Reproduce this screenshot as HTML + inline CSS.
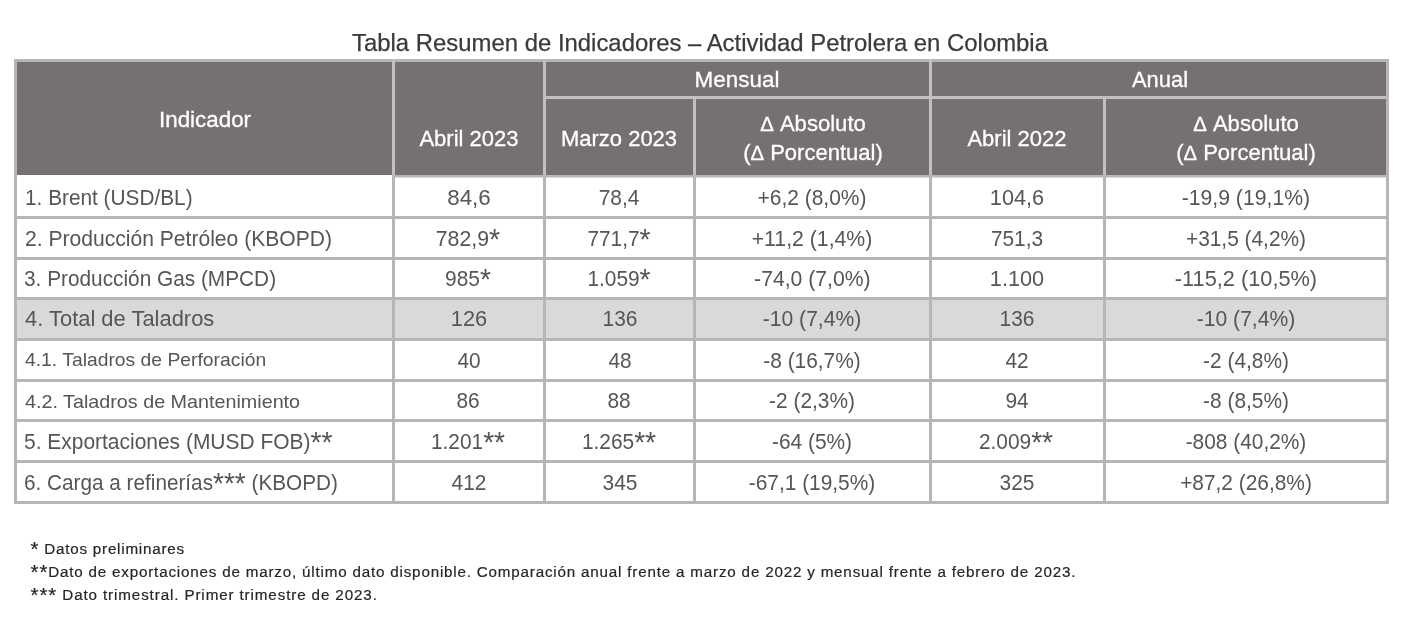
<!DOCTYPE html>
<html lang="es">
<head>
<meta charset="utf-8">
<title>Tabla Resumen de Indicadores – Actividad Petrolera en Colombia</title>
<style>
html,body{margin:0;padding:0;background:#fff;}
body{width:1415px;height:627px;position:relative;overflow:hidden;font-family:"Liberation Sans", Arial, sans-serif;}
.r{position:absolute;}
.t{position:absolute;white-space:nowrap;margin:0;padding:0;}
.ti{color:#3a3a3a;-webkit-text-stroke:0.25px #3a3a3a;}
.h{color:#fff;-webkit-text-stroke:0.3px #fff;}
.d{color:#55555a;}
.f{color:#262626;-webkit-text-stroke:0.2px #262626;}
.a{font-size:1.35em;line-height:0;vertical-align:-0.1em;}
.dl{font-size:.92em;}
</style>
</head>
<body>
<div class="r" style="left:14px;top:59px;width:1375px;height:116px;background:#767171"></div>
<div class="r" style="left:14px;top:297px;width:1375px;height:41px;background:#d9d9d9"></div>
<div class="r" style="left:14px;top:59px;width:1375px;height:3px;background:#b6b6b6"></div>
<div class="r" style="left:543px;top:96px;width:846px;height:3px;background:#c3bfbf"></div>
<div class="r" style="left:395px;top:175px;width:994px;height:2px;background:#b6b6b6"></div>
<div class="r" style="left:395px;top:177px;width:994px;height:1px;background:#dcdcdc"></div>
<div class="r" style="left:14px;top:216px;width:1375px;height:3px;background:#b6b6b6"></div>
<div class="r" style="left:14px;top:257px;width:1375px;height:3px;background:#b6b6b6"></div>
<div class="r" style="left:14px;top:297px;width:1375px;height:3px;background:#b6b6b6"></div>
<div class="r" style="left:14px;top:338px;width:1375px;height:3px;background:#b6b6b6"></div>
<div class="r" style="left:14px;top:379px;width:1375px;height:3px;background:#b6b6b6"></div>
<div class="r" style="left:14px;top:419px;width:1375px;height:3px;background:#b6b6b6"></div>
<div class="r" style="left:14px;top:460px;width:1375px;height:3px;background:#b6b6b6"></div>
<div class="r" style="left:14px;top:501px;width:1375px;height:3px;background:#b6b6b6"></div>
<div class="r" style="left:14px;top:59px;width:3px;height:445px;background:#b6b6b6"></div>
<div class="r" style="left:392px;top:59px;width:3px;height:116px;background:#c3bfbf"></div>
<div class="r" style="left:392px;top:175px;width:3px;height:329px;background:#b6b6b6"></div>
<div class="r" style="left:543px;top:59px;width:3px;height:116px;background:#c3bfbf"></div>
<div class="r" style="left:543px;top:175px;width:3px;height:329px;background:#b6b6b6"></div>
<div class="r" style="left:693px;top:96px;width:3px;height:79px;background:#c3bfbf"></div>
<div class="r" style="left:693px;top:175px;width:3px;height:329px;background:#b6b6b6"></div>
<div class="r" style="left:929px;top:59px;width:3px;height:116px;background:#c3bfbf"></div>
<div class="r" style="left:929px;top:175px;width:3px;height:329px;background:#b6b6b6"></div>
<div class="r" style="left:1103px;top:96px;width:3px;height:79px;background:#c3bfbf"></div>
<div class="r" style="left:1103px;top:175px;width:3px;height:329px;background:#b6b6b6"></div>
<div class="r" style="left:1386px;top:59px;width:3px;height:445px;background:#b6b6b6"></div>
<div class="t ti" style="top:27.95px;line-height:29px;font-size:24.4px;left:199.78px;width:1000px;text-align:center;transform:scaleX(0.9796);">Tabla Resumen de Indicadores – Actividad Petrolera en Colombia</div>
<div class="t h" style="top:106.20px;line-height:27px;font-size:22.8px;left:-295.39px;width:1000px;text-align:center;transform:scaleX(0.9815);">Indicador</div>
<div class="t h" style="top:124.60px;line-height:27px;font-size:22.8px;left:-31.28px;width:1000px;text-align:center;transform:scaleX(0.9667);">Abril 2023</div>
<div class="t h" style="top:66.20px;line-height:27px;font-size:22.8px;left:237.39px;width:1000px;text-align:center;transform:scaleX(0.9843);">Mensual</div>
<div class="t h" style="top:66.20px;line-height:27px;font-size:22.8px;left:659.63px;width:1000px;text-align:center;transform:scaleX(0.9614);">Anual</div>
<div class="t h" style="top:124.60px;line-height:27px;font-size:22.8px;left:118.92px;width:1000px;text-align:center;transform:scaleX(0.9653);">Marzo 2023</div>
<div class="t h" style="top:110.40px;line-height:27px;font-size:22.8px;left:313.02px;width:1000px;text-align:center;transform:scaleX(0.9685);"><span class="dl">Δ</span> Absoluto</div>
<div class="t h" style="top:139.30px;line-height:27px;font-size:22.8px;left:312.66px;width:1000px;text-align:center;transform:scaleX(0.9662);">(<span class="dl">Δ</span> Porcentual)</div>
<div class="t h" style="top:124.60px;line-height:27px;font-size:22.8px;left:517.22px;width:1000px;text-align:center;transform:scaleX(0.9667);">Abril 2022</div>
<div class="t h" style="top:110.40px;line-height:27px;font-size:22.8px;left:746.22px;width:1000px;text-align:center;transform:scaleX(0.9685);"><span class="dl">Δ</span> Absoluto</div>
<div class="t h" style="top:139.30px;line-height:27px;font-size:22.8px;left:745.96px;width:1000px;text-align:center;transform:scaleX(0.9662);">(<span class="dl">Δ</span> Porcentual)</div>
<div class="t d" style="top:185.15px;line-height:25px;font-size:21.2px;left:24.82px;transform:scaleX(0.9817);transform-origin:0 50%;">1. Brent (USD/BL)</div>
<div class="t d" style="top:185.15px;line-height:25px;font-size:21.2px;left:-31.27px;width:1000px;text-align:center;transform:scaleX(1.0564);">84,6</div>
<div class="t d" style="top:185.15px;line-height:25px;font-size:21.2px;left:119.13px;width:1000px;text-align:center;transform:scaleX(0.985);">78,4</div>
<div class="t d" style="top:185.15px;line-height:25px;font-size:21.2px;left:312.16px;width:1000px;text-align:center;transform:scaleX(0.9898);">+6,2 (8,0%)</div>
<div class="t d" style="top:185.15px;line-height:25px;font-size:21.2px;left:516.82px;width:1000px;text-align:center;transform:scaleX(1.0235);">104,6</div>
<div class="t d" style="top:185.15px;line-height:25px;font-size:21.2px;left:745.89px;width:1000px;text-align:center;">-19,9 (19,1%)</div>
<div class="t d" style="top:226.15px;line-height:25px;font-size:21.2px;left:24.50px;transform:scaleX(0.9951);transform-origin:0 50%;">2. Producción Petróleo (KBOPD)</div>
<div class="t d" style="top:226.15px;line-height:25px;font-size:21.2px;left:-31.82px;width:1000px;text-align:center;transform:scaleX(1.0032);">782,9<span class="a">*</span></div>
<div class="t d" style="top:226.15px;line-height:25px;font-size:21.2px;left:119.09px;width:1000px;text-align:center;transform:scaleX(0.985);">771,7<span class="a">*</span></div>
<div class="t d" style="top:226.15px;line-height:25px;font-size:21.2px;left:312.26px;width:1000px;text-align:center;transform:scaleX(1.0025);">+11,2 (1,4%)</div>
<div class="t d" style="top:226.15px;line-height:25px;font-size:21.2px;left:516.82px;width:1000px;text-align:center;transform:scaleX(0.985);">751,3</div>
<div class="t d" style="top:226.15px;line-height:25px;font-size:21.2px;left:745.65px;width:1000px;text-align:center;transform:scaleX(0.985);">+31,5 (4,2%)</div>
<div class="t d" style="top:266.15px;line-height:25px;font-size:21.2px;left:24.22px;transform:scaleX(0.982);transform-origin:0 50%;">3. Producción Gas (MPCD)</div>
<div class="t d" style="top:266.15px;line-height:25px;font-size:21.2px;left:-31.65px;width:1000px;text-align:center;transform:scaleX(0.985);">985<span class="a">*</span></div>
<div class="t d" style="top:266.15px;line-height:25px;font-size:21.2px;left:119.09px;width:1000px;text-align:center;transform:scaleX(0.985);">1.059<span class="a">*</span></div>
<div class="t d" style="top:266.15px;line-height:25px;font-size:21.2px;left:312.40px;width:1000px;text-align:center;">-74,0 (7,0%)</div>
<div class="t d" style="top:266.15px;line-height:25px;font-size:21.2px;left:516.82px;width:1000px;text-align:center;transform:scaleX(1.0235);">1.100</div>
<div class="t d" style="top:266.15px;line-height:25px;font-size:21.2px;left:746.00px;width:1000px;text-align:center;transform:scaleX(1.0265);">-115,2 (10,5%)</div>
<div class="t d" style="top:306.15px;line-height:25px;font-size:21.2px;left:24.70px;transform:scaleX(1.0346);transform-origin:0 50%;">4. Total de Taladros</div>
<div class="t d" style="top:306.15px;line-height:25px;font-size:21.2px;left:-31.22px;width:1000px;text-align:center;transform:scaleX(1.0273);">126</div>
<div class="t d" style="top:306.15px;line-height:25px;font-size:21.2px;left:119.68px;width:1000px;text-align:center;transform:scaleX(0.985);">136</div>
<div class="t d" style="top:306.15px;line-height:25px;font-size:21.2px;left:312.06px;width:1000px;text-align:center;transform:scaleX(0.9948);">-10 (7,4%)</div>
<div class="t d" style="top:306.15px;line-height:25px;font-size:21.2px;left:516.98px;width:1000px;text-align:center;transform:scaleX(0.985);">136</div>
<div class="t d" style="top:306.15px;line-height:25px;font-size:21.2px;left:745.66px;width:1000px;text-align:center;transform:scaleX(0.9948);">-10 (7,4%)</div>
<div class="t d" style="top:348.42px;line-height:23px;font-size:19.0px;left:24.70px;transform:scaleX(1.0165);transform-origin:0 50%;">4.1. Taladros de Perforación</div>
<div class="t d" style="top:347.65px;line-height:25px;font-size:21.2px;left:-31.12px;width:1000px;text-align:center;transform:scaleX(0.985);">40</div>
<div class="t d" style="top:347.65px;line-height:25px;font-size:21.2px;left:119.78px;width:1000px;text-align:center;transform:scaleX(0.985);">48</div>
<div class="t d" style="top:347.65px;line-height:25px;font-size:21.2px;left:312.06px;width:1000px;text-align:center;transform:scaleX(0.985);">-8 (16,7%)</div>
<div class="t d" style="top:347.65px;line-height:25px;font-size:21.2px;left:517.08px;width:1000px;text-align:center;transform:scaleX(0.985);">42</div>
<div class="t d" style="top:347.65px;line-height:25px;font-size:21.2px;left:745.77px;width:1000px;text-align:center;transform:scaleX(0.985);">-2 (4,8%)</div>
<div class="t d" style="top:390.32px;line-height:23px;font-size:19.0px;left:24.70px;transform:scaleX(1.039);transform-origin:0 50%;">4.2. Taladros de Mantenimiento</div>
<div class="t d" style="top:388.15px;line-height:25px;font-size:21.2px;left:-31.61px;width:1000px;text-align:center;transform:scaleX(0.985);">86</div>
<div class="t d" style="top:388.15px;line-height:25px;font-size:21.2px;left:119.29px;width:1000px;text-align:center;transform:scaleX(0.985);">88</div>
<div class="t d" style="top:388.15px;line-height:25px;font-size:21.2px;left:312.17px;width:1000px;text-align:center;transform:scaleX(0.985);">-2 (2,3%)</div>
<div class="t d" style="top:388.15px;line-height:25px;font-size:21.2px;left:516.59px;width:1000px;text-align:center;transform:scaleX(0.985);">94</div>
<div class="t d" style="top:388.15px;line-height:25px;font-size:21.2px;left:745.77px;width:1000px;text-align:center;transform:scaleX(0.985);">-8 (8,5%)</div>
<div class="t d" style="top:428.85px;line-height:25px;font-size:21.2px;left:24.41px;transform:scaleX(0.989);transform-origin:0 50%;">5. Exportaciones (MUSD FOB)<span class="a">**</span></div>
<div class="t d" style="top:428.85px;line-height:25px;font-size:21.2px;left:-31.74px;width:1000px;text-align:center;transform:scaleX(0.985);">1.201<span class="a">**</span></div>
<div class="t d" style="top:428.85px;line-height:25px;font-size:21.2px;left:119.16px;width:1000px;text-align:center;transform:scaleX(0.985);">1.265<span class="a">**</span></div>
<div class="t d" style="top:428.85px;line-height:25px;font-size:21.2px;left:312.22px;width:1000px;text-align:center;transform:scaleX(0.985);">-64 (5%)</div>
<div class="t d" style="top:428.85px;line-height:25px;font-size:21.2px;left:516.46px;width:1000px;text-align:center;transform:scaleX(0.985);">2.009<span class="a">**</span></div>
<div class="t d" style="top:428.85px;line-height:25px;font-size:21.2px;left:745.94px;width:1000px;text-align:center;transform:scaleX(0.985);">-808 (40,2%)</div>
<div class="t d" style="top:470.15px;line-height:25px;font-size:21.2px;left:24.42px;transform:scaleX(0.9787);transform-origin:0 50%;">6. Carga a refinerías<span class="a">***</span> (KBOPD)</div>
<div class="t d" style="top:470.15px;line-height:25px;font-size:21.2px;left:-30.73px;width:1000px;text-align:center;transform:scaleX(0.985);">412</div>
<div class="t d" style="top:470.15px;line-height:25px;font-size:21.2px;left:119.68px;width:1000px;text-align:center;transform:scaleX(0.985);">345</div>
<div class="t d" style="top:470.15px;line-height:25px;font-size:21.2px;left:312.28px;width:1000px;text-align:center;transform:scaleX(0.985);">-67,1 (19,5%)</div>
<div class="t d" style="top:470.15px;line-height:25px;font-size:21.2px;left:516.98px;width:1000px;text-align:center;transform:scaleX(0.985);">325</div>
<div class="t d" style="top:470.15px;line-height:25px;font-size:21.2px;left:745.55px;width:1000px;text-align:center;transform:scaleX(0.985);">+87,2 (26,8%)</div>
<div class="t f" style="top:539.73px;line-height:18px;font-size:15.2px;letter-spacing:0.77px;left:30.60px;"><span class="a">*</span> Datos preliminares</div>
<div class="t f" style="top:562.73px;line-height:18px;font-size:15.2px;letter-spacing:0.81px;left:30.60px;"><span class="a">**</span>Dato de exportaciones de marzo, último dato disponible. Comparación anual frente a marzo de 2022 y mensual frente a febrero de 2023.</div>
<div class="t f" style="top:585.73px;line-height:18px;font-size:15.2px;letter-spacing:0.88px;left:30.60px;"><span class="a">***</span> Dato trimestral. Primer trimestre de 2023.</div>
</body>
</html>
